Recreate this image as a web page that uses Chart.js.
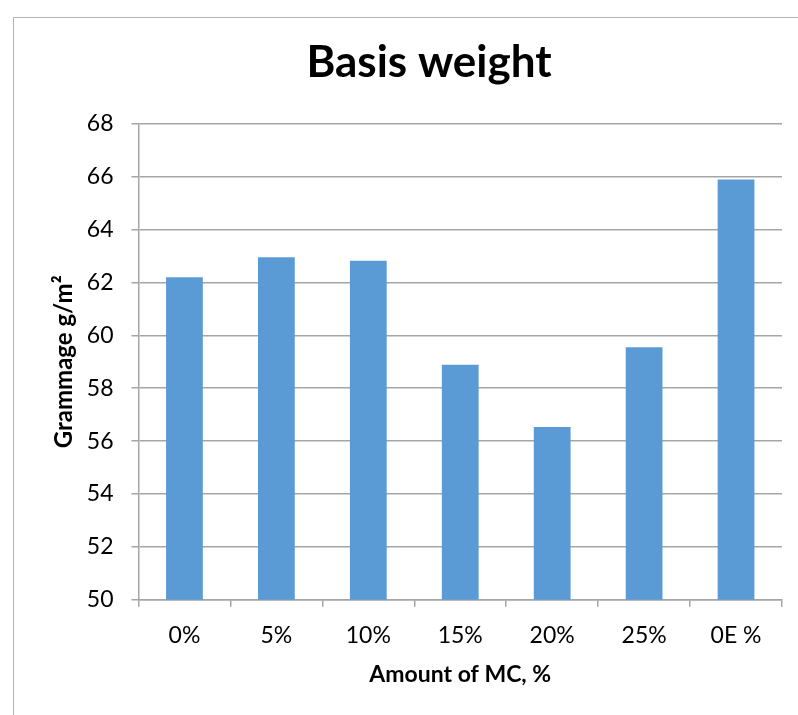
<!DOCTYPE html>
<html>
<head>
<meta charset="utf-8">
<script src="https://cdn.jsdelivr.net/npm/chart.js@4"></script>
<style>
  html, body { margin: 0; padding: 0; background: #fff; overflow: hidden; }
  #frame {
    position: absolute; left: 13px; top: 17px;
    width: 862px; height: 720px;
    border: 1px solid #b4b4b4;
  }
  canvas { display: block; }
</style>
</head>
<body>
<div id="frame"><canvas id="chart" width="862" height="720"></canvas></div>
<script>
// data
const categories = ['0%', '5%', '10%', '15%', '20%', '25%', '0E %'];
const grammage = [62.2, 62.95, 62.82, 58.89, 56.53, 59.55, 65.89];
const yTicks = [50, 52, 54, 56, 58, 60, 62, 64, 66, 68];

const fontFamily = 'Lato, "Open Sans", sans-serif';
const gridGray = '#a6a6a6';

const ctx = document.getElementById('chart').getContext('2d');

new Chart(ctx, {
  type: 'bar',
  data: {
    labels: categories,
    datasets: [{
      data: grammage,
      backgroundColor: '#5b9bd5',
      categoryPercentage: 1,
      barPercentage: 0.4
    }]
  },
  options: {
    responsive: false,
    devicePixelRatio: 1,
    animation: false,
    layout: {
      padding: { left: 62, right: 94, top: 0, bottom: 50 }
    },
    plugins: {
      legend: { display: false },
      tooltip: { enabled: false },
      title: {
        display: true,
        text: 'Basis weight',
        color: '#000',
        font: { family: fontFamily, size: 44, weight: 'bold' },
        padding: { top: 18, bottom: 35 }
      }
    },
    scales: {
      y: {
        min: 50,
        max: 68,
        afterBuildTicks: axis => {
          axis.ticks = yTicks.map(v => ({ value: v }));
        },
        ticks: {
          color: '#000',
          font: { family: fontFamily, size: 23 },
          padding: 18
        },
        grid: {
          color: gridGray,
          lineWidth: 1.5,
          tickLength: 7,
          tickColor: gridGray
        },
        border: { color: gridGray, width: 1.5 },
        title: {
          display: true,
          text: 'Grammage g/m²',
          color: '#000',
          font: { family: fontFamily, size: 24, weight: 'bold' },
          padding: { top: -26, bottom: -10 }
        }
      },
      x: {
        ticks: {
          color: '#000',
          font: { family: fontFamily, size: 23 },
          padding: 15
        },
        grid: {
          offset: true,
          drawOnChartArea: false,
          tickLength: 7,
          color: gridGray,
          lineWidth: 1.5
        },
        border: { color: gridGray, width: 1.5 },
        title: {
          display: true,
          text: 'Amount of MC, %',
          color: '#000',
          font: { family: fontFamily, size: 23, weight: 'bold' },
          padding: { top: -4, bottom: 0 }
        }
      }
    }
  }
});
</script>
</body>
</html>
